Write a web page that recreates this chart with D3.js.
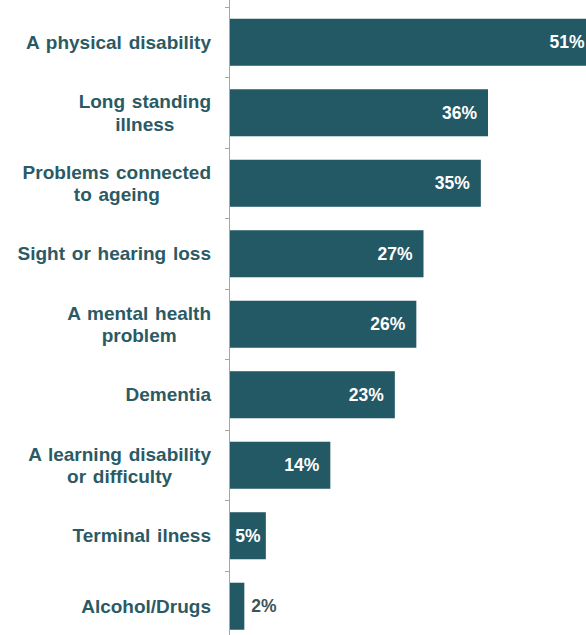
<!DOCTYPE html>
<html><head><meta charset="utf-8">
<script src="https://cdn.jsdelivr.net/npm/d3@7"></script>
<style>body{margin:0;background:#fff;overflow:hidden}svg{display:block}</style>
</head><body>
<script>
const categories = [
  ["A physical disability"],
  ["Long standing", "illness"],
  ["Problems connected", "to ageing"],
  ["Sight or hearing loss"],
  ["A mental health", "problem"],
  ["Dementia"],
  ["A learning disability", "or difficulty"],
  ["Terminal ilness"],
  ["Alcohol/Drugs"]
];
const values = [51, 36, 35, 27, 26, 23, 14, 5, 2];

const W = 586, H = 635;
const svg = d3.select("body").append("svg").attr("width", W).attr("height", H);
const keys = categories.map((c, i) => i);
const x = d3.scaleLinear().domain([0, 51]).range([230, 595.5]);
const y = d3.scaleBand().domain(keys).range([7, 641.5]).paddingInner(0.333).paddingOuter(0.1667);
const step = y.step();

// bars
svg.selectAll("rect.bar").data(values).join("rect")
  .attr("x", x(0)).attr("y", (d, i) => y(i))
  .attr("width", d => x(d) - x(0)).attr("height", y.bandwidth())
  .attr("fill", "#235865");

// axis line and ticks
svg.append("line").attr("x1", 229.5).attr("x2", 229.5).attr("y1", 0).attr("y2", H)
  .attr("stroke", "#a6a6a6").attr("stroke-width", 1);
const tickYs = d3.range(values.length + 1).map(i => y.range()[0] + i * step);
svg.selectAll("line.tick").data(tickYs).join("line")
  .attr("x1", 225).attr("x2", 230).attr("y1", d => Math.round(d) + 0.5).attr("y2", d => Math.round(d) + 0.5)
  .attr("stroke", "#a6a6a6");

// category labels
const font = "'Liberation Sans', Arial, sans-serif";
categories.forEach((lines, i) => {
  const cy = y(i) + y.bandwidth() / 2;
  const lh = 22.5;
  const g = svg.append("g");
  const ts = lines.map((l, j) => g.append("text")
    .attr("y", cy + (j - (lines.length - 1) / 2) * lh)
    .attr("dy", "0.35em")
    .attr("text-anchor", "middle")
    .attr("font-family", font).attr("font-weight", "bold").attr("font-size", 19)
    .attr("word-spacing", 1.5)
    .attr("fill", "#2b5a64").text(l));
  const maxw = d3.max(ts, t => t.node().getComputedTextLength());
  ts.forEach(t => t.attr("x", 211 - maxw / 2));
});

// value labels
values.forEach((v, i) => {
  const cy = y(i) + y.bandwidth() / 2;
  const inside = v >= 5;
  const t = svg.append("text")
    .attr("y", cy).attr("dy", "0.35em")
    .attr("text-anchor", inside ? "end" : "start")
    .attr("font-family", font).attr("font-weight", "bold").attr("font-size", 17.5)
    .attr("fill", inside ? "#ffffff" : "#3e5359")
    .text(v + "%");
  const tw = t.node().getComputedTextLength();
  const bw = x(v) - x(0);
  t.attr("x", inside ? x(v) - Math.min(11, (bw - tw) / 2) : x(v) + 7);
});
</script>
</body></html>
